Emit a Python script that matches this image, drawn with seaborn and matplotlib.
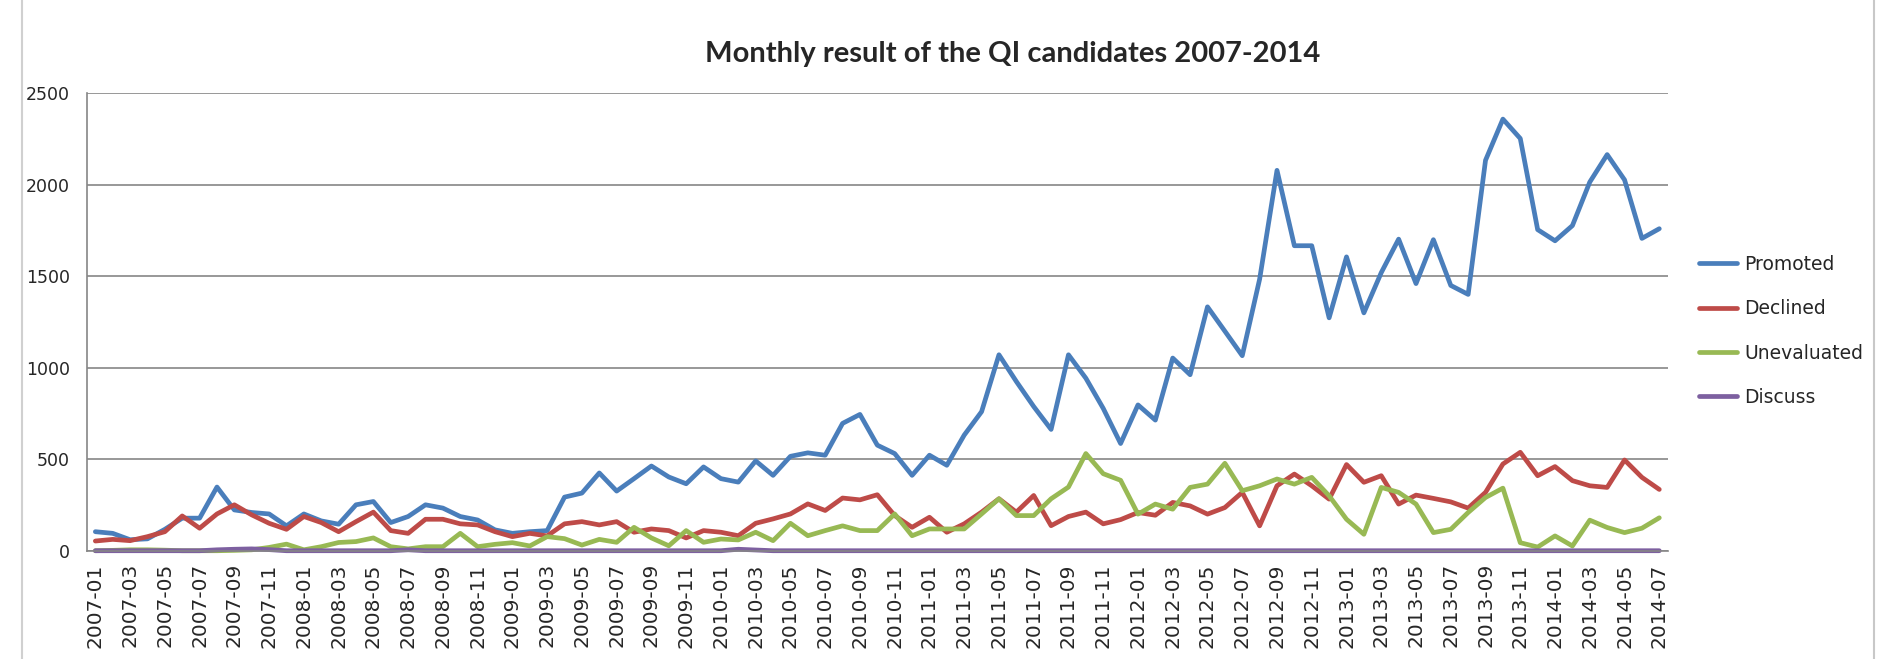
import matplotlib

matplotlib.use("Agg")
import matplotlib.pyplot as plt
import numpy as np
import pandas as pd
import seaborn as sns

# month labels 2007-01 .. 2014-07
months = [f"{y}-{m:02d}" for y in range(2007, 2015) for m in range(1, 13)][:91]

promoted = [
    104, 95, 60, 65, 117, 178, 178, 348, 223, 209, 201, 136, 201, 163, 145,
    251, 269, 154, 187, 251, 233, 187, 168, 114, 95, 104, 110, 293, 315, 425,
    326, 394, 463, 403, 366, 458, 394, 375, 491, 412, 516, 535, 522, 696, 745,
    577, 531, 412, 522, 467, 632, 760, 1071, 925, 788, 663, 1071, 943, 778, 586,
    797, 714, 1053, 962, 1333, 1200, 1066, 1484, 2079, 1667, 1667, 1273, 1606, 1300, 1520,
    1703, 1460, 1700, 1450, 1401, 2134, 2359, 2253, 1755, 1694, 1777, 2015, 2165, 2027, 1707, 1760,
]
declined = [
    53, 62, 55, 77, 104, 190, 123, 201, 251, 196, 150, 117, 187, 154, 104,
    159, 211, 110, 95, 172, 172, 147, 141, 104, 77, 95, 81, 147, 159, 141,
    159, 101, 119, 110, 70, 110, 101, 82, 150, 174, 201, 256, 220, 288, 278,
    306, 192, 128, 183, 101, 147, 211, 284, 211, 302, 137, 187, 211, 147, 170,
    209, 194, 264, 245, 200, 236, 319, 136, 355, 419, 355, 282, 471, 374, 410,
    255, 304, 286, 267, 233, 319, 474, 538, 410, 460, 383, 355, 346, 496, 401, 335,
]
unevaluated = [
    0, 2, 5, 5, 3, 0, 0, 0, 2, 5, 18, 36, 5, 22, 45,
    50, 70, 22, 10, 22, 22, 95, 22, 35, 44, 26, 77, 66, 31, 62,
    46, 128, 70, 27, 110, 46, 64, 59, 101, 55, 150, 82, 110, 136, 110,
    110, 201, 82, 119, 119, 119, 201, 284, 192, 192, 284, 348, 531, 421, 385,
    200, 255, 227, 346, 364, 478, 328, 355, 392, 364, 401, 300, 172, 90, 346,
    319, 255, 99, 117, 209, 291, 342, 44, 20, 81, 26, 167, 127, 99, 123, 180,
]
discuss = [0] * 91
for i, v in {7: 5, 8: 8, 9: 10, 10: 6, 18: 5, 37: 8, 38: 4}.items():
    discuss[i] = v

series = {
    "Promoted": promoted,
    "Declined": declined,
    "Unevaluated": unevaluated,
    "Discuss": discuss,
}
palette = {
    "Promoted": "#4a7ebb",
    "Declined": "#be4b48",
    "Unevaluated": "#98b954",
    "Discuss": "#7d60a0",
}

rows = []
for name, vals in series.items():
    for i, v in enumerate(vals):
        rows.append({"idx": i, "month": months[i], "value": v, "series": name})
df = pd.DataFrame(rows)

sns.set_style("white")
plt.rcParams["font.family"] = ["DejaVu Sans"]

fig = plt.figure(figsize=(18.92, 6.59), dpi=100)
ax = fig.add_axes([0.0458, 0.1643, 0.8358, 0.6941])

sns.lineplot(
    data=df, x="idx", y="value", hue="series", hue_order=list(series),
    palette=palette, linewidth=3.4, ax=ax, legend=False,
)
for ln in ax.lines:
    ln.set_clip_on(False)
    ln.set_solid_joinstyle("round")

grid_c = "#868686"
ax.set_ylim(0, 2500)
ax.set_xlim(-0.5, 90.5)
ax.set_yticks(range(0, 2501, 500))
ax.set_xticks(range(0, 91, 2))
ax.set_xticklabels(months[::2], rotation=90)
ax.set_xticks(np.arange(-0.5, 91, 1), minor=True)
ax.tick_params(axis="x", which="major", length=0, pad=9, labelsize=14.5)
ax.tick_params(axis="x", which="minor", length=7, width=1, color=grid_c, direction="out")
ax.tick_params(axis="y", length=7, width=1, color=grid_c, direction="out", pad=5, labelsize=12.5)
ax.grid(axis="y", color=grid_c, linewidth=1.2)
ax.set_axisbelow(True)
ax.set_xlabel("")
ax.set_ylabel("")
for side in ["top", "right"]:
    ax.spines[side].set_visible(False)
for side in ["left", "bottom"]:
    ax.spines[side].set_color(grid_c)
    ax.spines[side].set_linewidth(1.2)

fig.text(0.535, 0.918, "Monthly result of the QI candidates 2007-2014",
         ha="center", va="center", fontsize=21, fontweight="bold", family=["Lato", "DejaVu Sans"])

handles = [plt.Line2D([], [], color=palette[n], linewidth=3.4) for n in series]
fig.legend(handles, list(series), loc="center left", bbox_to_anchor=(0.898, 0.4977),
           frameon=False, fontsize=13.5, handlelength=2.0, handletextpad=0.4,
           labelspacing=1.35, borderpad=0, borderaxespad=0)

# chart area frame edges
fig.add_artist(plt.Line2D([22 / 1892, 22 / 1892], [0, 1], color="#d0d0d0", linewidth=1.5))
fig.add_artist(plt.Line2D([1874 / 1892, 1874 / 1892], [0, 1], color="#c8c8c8", linewidth=1.5))

fig.savefig("out.png", dpi=100)
plt.close(fig)
